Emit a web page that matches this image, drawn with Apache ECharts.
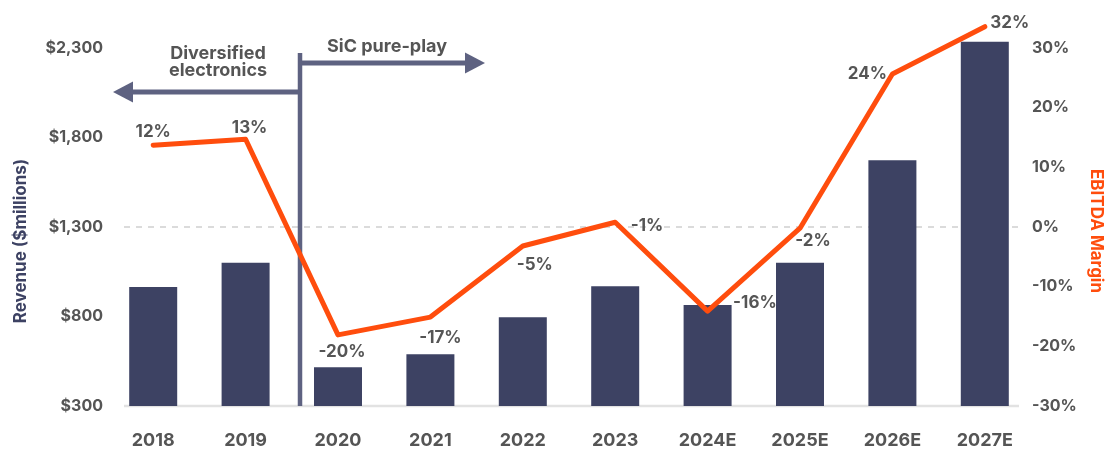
<!DOCTYPE html>
<html>
<head>
<meta charset="utf-8">
<script src="https://cdn.jsdelivr.net/npm/echarts@6/dist/echarts.min.js"></script>
<style>
  html, body { margin: 0; padding: 0; background: #ffffff; }
  #chart { width: 1106px; height: 450px; }
</style>
</head>
<body>
<div id="chart"></div>
<script>
// Fiscal years (E = estimate)
const years = ['2018', '2019', '2020', '2021', '2022', '2023', '2024E', '2025E', '2026E', '2027E'];
// Revenue, $ millions
const revenue = [965, 1100, 516, 589, 796, 969, 864, 1100, 1673, 2335];
// EBITDA margin, %
const ebitdaMargin = [12, 13, -20, -17, -5, -1, -16, -2, 24, 32];
// Axis ticks
const revenueTicks = { min: 300, max: 2300, step: 500 };
const marginTicks = { min: -30, max: 30, step: 10 };

// Where each margin label sits around its point
const marginLabelPlacement = [
  { position: 'top', distance: 4, offset: [0, 0] },
  { position: 'top', distance: 2, offset: [4, 0] },
  { position: 'bottom', distance: 8, offset: [4, 0] },
  { position: 'bottom', distance: 12, offset: [10, 0] },
  { position: 'bottom', distance: 10, offset: [12, 0] },
  { position: 'right', distance: 15, offset: [0, 4] },
  { position: 'right', distance: 25, offset: [0, -8] },
  { position: 'bottom', distance: 4, offset: [13, 0] },
  { position: 'left', distance: 5, offset: [0, 0] },
  { position: 'right', distance: 5, offset: [0, -4] }
];

const FONT = 'Inter, "Noto Sans", sans-serif';
const TEXT_GREY = '#555555';
const NAVY = '#3d4263';
const ORANGE = '#ff4d0d';
const SLATE = '#5e6281';

// Plot area: the top tick sits 28px below the grid top so the tallest
// bar and the last margin point have room above it.
const GRID = { left: 107, right: 75, top: 20, bottom: 44 };
const TICK_TOP_PX = 48;
const tickSpanH = 450 - GRID.bottom - TICK_TOP_PX;
const headroom = (TICK_TOP_PX - GRID.top) / tickSpanH;

const revMax = revenueTicks.max + headroom * (revenueTicks.max - revenueTicks.min);
const marMax = marginTicks.max + headroom * (marginTicks.max - marginTicks.min);
// plotting scale of the margin line (slightly offset from the printed axis)
const lineScale = { min: -32, max: 28.4 };
const lineMax = lineScale.max + headroom * (lineScale.max - lineScale.min);

const chart = echarts.init(document.getElementById('chart'), null, { renderer: 'canvas', width: 1106, height: 450 });

const marginData = ebitdaMargin.map((v, i) => ({
  value: v,
  label: Object.assign({}, marginLabelPlacement[i])
}));

chart.setOption({
  animation: false,
  backgroundColor: '#ffffff',
  textStyle: { fontFamily: FONT },
  grid: Object.assign({ containLabel: false, outerBoundsMode: 'none' }, GRID),
  xAxis: {
    type: 'category',
    data: years,
    axisLine: { show: false },
    axisTick: { show: false },
    axisLabel: { margin: 26, fontSize: 18, fontWeight: 'bold', color: TEXT_GREY, fontFamily: FONT }
  },
  yAxis: [
    {
      type: 'value',
      position: 'left',
      min: revenueTicks.min,
      max: revMax,
      interval: revenueTicks.step,
      splitLine: { show: false },
      axisLine: { show: false },
      axisTick: { show: false },
      axisLabel: {
        margin: 4,
        fontSize: 16,
        fontWeight: 'bold',
        color: TEXT_GREY,
        fontFamily: FONT,
        showMaxLabel: false,
        formatter: v => '$' + v.toLocaleString('en-US')
      },
      name: 'Revenue ($millions)',
      nameLocation: 'middle',
      nameRotate: 90,
      nameGap: 78,
      nameTextStyle: { fontSize: 17, fontWeight: 'bold', color: NAVY, fontFamily: FONT, padding: [0, 56, 0, 0] }
    },
    {
      type: 'value',
      position: 'right',
      min: marginTicks.min,
      max: marMax,
      interval: marginTicks.step,
      splitLine: { show: false },
      axisLine: { show: false },
      axisTick: { show: false },
      axisLabel: {
        margin: 1,
        fontSize: 16,
        fontWeight: 'bold',
        color: TEXT_GREY,
        fontFamily: FONT,
        showMaxLabel: false,
        formatter: '{value}%'
      },
      name: 'EBITDA Margin',
      nameLocation: 'middle',
      nameRotate: -90,
      nameGap: 55,
      nameTextStyle: { fontSize: 17, fontWeight: 'bold', color: ORANGE, fontFamily: FONT, padding: [0, 0, 0, 36] }
    },
    {
      type: 'value',
      position: 'right',
      show: false,
      min: lineScale.min,
      max: lineMax,
      splitLine: { show: false }
    }
  ],
  series: [
    {
      name: 'Revenue',
      type: 'bar',
      yAxisIndex: 0,
      data: revenue,
      barWidth: 48,
      itemStyle: { color: NAVY },
      z: 2
    },
    {
      name: 'EBITDA Margin',
      type: 'line',
      yAxisIndex: 2,
      data: marginData,
      clip: false,
      symbol: 'circle',
      symbolSize: 1,
      itemStyle: { color: ORANGE },
      lineStyle: { color: ORANGE, width: 5, cap: 'round', join: 'round' },
      label: {
        show: true,
        formatter: p => p.value + '%',
        fontSize: 17,
        fontWeight: 'bold',
        color: TEXT_GREY,
        fontFamily: FONT
      },
      z: 3
    }
  ]
});

// Reference lines and the business-phase annotation
const yBase = chart.convertToPixel({ yAxisIndex: 0 }, revenueTicks.min);
const yZero = chart.convertToPixel({ yAxisIndex: 1 }, 0);

chart.setOption({
  graphic: [
    {
      type: 'line', z: 0, silent: true,
      shape: { x1: 124, y1: yBase, x2: 1019, y2: yBase },
      style: { stroke: '#e2e2e2', lineWidth: 2.5 }
    },
    {
      type: 'line', z: 0, silent: true,
      shape: { x1: 124, y1: yZero, x2: 1020, y2: yZero },
      style: { stroke: '#cfcfcf', lineWidth: 1.5, lineDash: [6, 6] }
    },
    {
      type: 'line', z: 1, silent: true,
      shape: { x1: 300, y1: 53, x2: 300, y2: yBase },
      style: { stroke: SLATE, lineWidth: 4.5 }
    },
    {
      type: 'line', z: 1, silent: true,
      shape: { x1: 300, y1: 92, x2: 128, y2: 92 },
      style: { stroke: SLATE, lineWidth: 5 }
    },
    {
      type: 'polygon', z: 1, silent: true,
      shape: { points: [[113, 92], [133, 81.5], [133, 102.5]] },
      style: { fill: SLATE }
    },
    {
      type: 'line', z: 1, silent: true,
      shape: { x1: 300, y1: 63, x2: 470, y2: 63 },
      style: { stroke: SLATE, lineWidth: 5 }
    },
    {
      type: 'polygon', z: 1, silent: true,
      shape: { points: [[485, 63], [465, 52.5], [465, 73.5]] },
      style: { fill: SLATE }
    },
    {
      type: 'text', z: 1, silent: true,
      x: 218, y: 62.5,
      style: {
        text: 'Diversified\nelectronics',
        align: 'center', verticalAlign: 'middle',
        font: 'bold 18px ' + FONT,
        lineHeight: 17,
        fill: TEXT_GREY
      }
    },
    {
      type: 'text', z: 1, silent: true,
      x: 387, y: 47,
      style: {
        text: 'SiC pure-play',
        align: 'center', verticalAlign: 'middle',
        font: 'bold 18px ' + FONT,
        fill: TEXT_GREY
      }
    }
  ]
});
</script>
</body>
</html>
